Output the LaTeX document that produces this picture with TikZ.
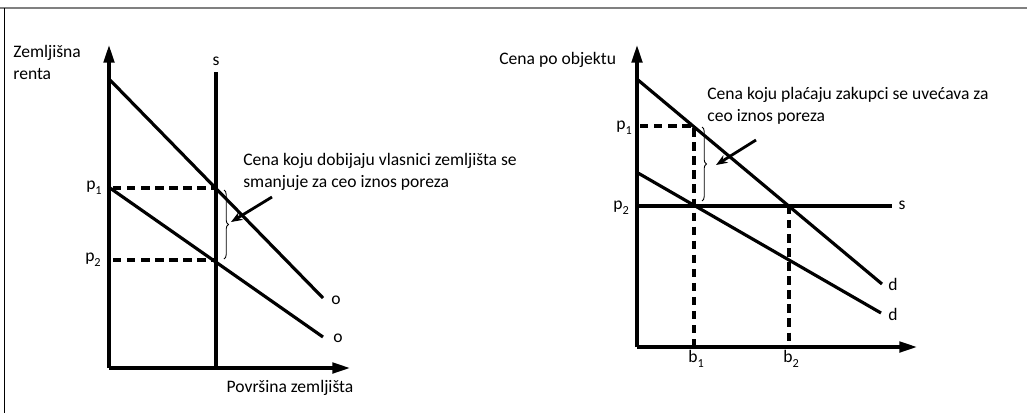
\documentclass[tikz,border=0pt]{standalone}
\usepackage{fontspec}
\setmainfont{Carlito}
\usetikzlibrary{arrows.meta, positioning, decorations.pathreplacing}
\tikzstyle{axis} = [line width=1.8pt, -{Triangle[length=10pt,width=6pt]}]
\tikzstyle{curve} = [line width=1.8pt]
\tikzstyle{guide} = [line width=1.8pt, dash pattern=on 4.8pt off 3.2pt]
\tikzstyle{brc} = [line width=0.5pt, decorate, decoration={brace, amplitude=2.5pt}]
\tikzstyle{pointer} = [line width=1.6pt, -{Stealth[length=6.5pt,width=5pt]}]
\tikzstyle{lbl} = [font=\fontsize{10pt}{12.3pt}\selectfont, inner sep=0pt]
\newcommand{\lowsub}[1]{\raisebox{-0.55ex}{\scriptsize #1}}

\begin{document}
\begin{tikzpicture}[x=0.02cm, y=-0.02cm]
  \useasboundingbox (0,0) rectangle (1027,413);
  % frame
  \draw[gray, line width=0.9pt] (0,8) -- (1027,8);
  \draw[black, line width=0.4pt] (4,8) -- (4,413);

  % left chart
  \coordinate (oL) at (109,368);
  \draw[axis] (oL) -- (109,45);
  \draw[axis] (oL) -- (350,368);
  \draw[curve] (216,72) -- (216,368);
  \draw[curve] (110,80) -- (323,298);
  \draw[curve] (110,188) -- (323,337);
  \draw[guide] (113,188) -- (216,188);
  \draw[guide] (113,260) -- (216,260);
  \draw[brc] (224,190) -- (224,259);
  \coordinate (tipL) at (231,222);
  \draw[pointer] (272,197) -- (tipL);

  \node (rentL)  [lbl, anchor=north west, align=left] at (13,45) {Zemljišna\\renta};
  \node (sL)     [lbl] at (216,61) {s};
  \node (oA)     [lbl] at (336,300) {o};
  \node (oB)     [lbl] at (338,338) {o};
  \node (p1L)    [lbl] at (94,188) {p\lowsub{1}};
  \node (p2L)    [lbl] at (93,260) {p\lowsub{2}};
  \node (noteL)  [lbl, anchor=north west, align=left] at (243,153) {Cena koju dobijaju vlasnici zemljišta se\\smanjuje za ceo iznos poreza};
  \node (areaL)  [lbl] at (290,388) {Površina zemljišta};

  % right chart
  \coordinate (oR) at (637,347);
  \draw[axis] (oR) -- (637,45);
  \draw[axis] (oR) -- (917,347);
  \draw[curve] (638,80) -- (882,284);
  \draw[curve] (638,173) -- (881,313);
  \draw[curve] (638,206) -- (892,206);
  \draw[guide] (640,126) -- (694,126) -- (694,347);
  \draw[guide] (789,206) -- (789,347);
  \draw[brc] (702,127) -- (702,201);
  \coordinate (tipR) at (716,165);
  \draw[pointer] (756,140) -- (tipR);

  \node (priceR) [lbl, anchor=west] at (499,60) {Cena po objektu};
  \node (dA)     [lbl] at (893,284) {d};
  \node (dB)     [lbl] at (893,314) {d};
  \node (sR)     [lbl] at (902,205) {s};
  \node (p1R)    [lbl] at (624,128) {p\lowsub{1}};
  \node (p2R)    [lbl] at (621,208) {p\lowsub{2}};
  \node (b1R)    [lbl] at (696,359) {b\lowsub{1}};
  \node (b2R)    [lbl] at (791,359) {b\lowsub{2}};
  \node (noteR)  [lbl, anchor=north west, align=left] at (707,87) {Cena koju plaćaju zakupci se uvećava za\\ceo iznos poreza};
\end{tikzpicture}
\end{document}
